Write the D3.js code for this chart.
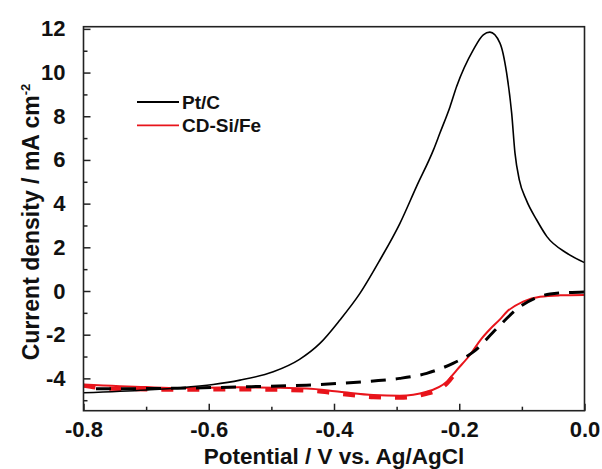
<!DOCTYPE html>
<html>
<head>
<meta charset="utf-8">
<script src="https://cdn.jsdelivr.net/npm/d3@7"></script>
<style>
  body { margin: 0; background: #fff; }
  svg text { font-family: "Liberation Sans", Arial, sans-serif; font-weight: bold; fill: #111; }
</style>
</head>
<body>
<svg id="chart" width="602" height="469"></svg>
<script>
// Pt/C (black solid)
const ptcPotential = [-0.800, -0.700, -0.646, -0.593, -0.550, -0.497, -0.455, -0.4225, -0.3906, -0.3586,
    -0.3267, -0.2947, -0.2683, -0.2412, -0.231, -0.2147, -0.2042, -0.1776, -0.1616, -0.151, -0.135, -0.1243,
    -0.1163, -0.111, -0.104, -0.093, -0.0763, -0.060, -0.028, 0.000];
const ptcCurrent = [-4.66, -4.53, -4.43, -4.28, -4.08, -3.70, -3.13, -2.40, -1.33, -0.11,
    1.42, 3.10, 4.78, 6.46, 7.22, 8.44, 9.36, 11.04, 11.73, 11.85, 11.35, 9.97,
    8.14, 6.31, 5.08, 4.17, 3.25, 2.49, 1.73, 1.30];

// CD-Si/Fe (red solid)
const cdPotential = [-0.800, -0.700, -0.646, -0.550, -0.444, -0.391, -0.337, -0.295, -0.252, -0.220,
    -0.204, -0.183, -0.165, -0.151, -0.135, -0.124, -0.098, -0.071, -0.040, 0.000];
const cdCurrent = [-4.28, -4.40, -4.44, -4.41, -4.46, -4.61, -4.76, -4.79, -4.61, -4.15,
    -3.62, -2.93, -2.20, -1.75, -1.30, -0.95, -0.49, -0.26, -0.20, -0.18];

// second scan, black dashed
const dashBlackPotential = [-0.780, -0.650, -0.532, -0.444, -0.391, -0.337, -0.295, -0.252, -0.210,
    -0.178, -0.140, -0.103, -0.055, 0.000];
const dashBlackCurrent = [-4.48, -4.45, -4.38, -4.31, -4.23, -4.12, -4.00, -3.77, -3.31,
    -2.80, -1.71, -0.72, -0.14, -0.04];

// second scan, red dashed (visible part)
const dashRedPotential = [-0.800, -0.760, -0.650, -0.550, -0.444, -0.391, -0.337, -0.295, -0.252,
    -0.220, -0.205];
const dashRedCurrent = [-4.34, -4.47, -4.52, -4.51, -4.56, -4.71, -4.86, -4.89, -4.71,
    -4.25, -3.70];

const xTicks = [-0.8, -0.6, -0.4, -0.2, 0.0];
const xMinor = [-0.7, -0.5, -0.3, -0.1];
const yTicks = [-4, -2, 0, 2, 4, 6, 8, 10, 12];
const yMinor = [-5, -3, -1, 1, 3, 5, 7, 9, 11];

const legendItems = [
    { label: "Pt/C", color: "#000" },
    { label: "CD-Si/Fe", color: "#e8141b" }
];

const svg = d3.select("#chart");
const margin = { top: 26.7, right: 17.5, bottom: 58.3, left: 83.5 };
const width = 602 - margin.left - margin.right;
const height = 469 - margin.top - margin.bottom;

const g = svg.append("g").attr("transform", `translate(${margin.left},${margin.top})`);

const x = d3.scaleLinear().domain([-0.8, 0.0]).range([0, width]);
const y = d3.scaleLinear().domain([-5.48, 12.1]).range([height, 0]);

function series(px, py) {
    return px.map((v, i) => ({ v: v, j: py[i] }));
}

const line = d3.line()
    .x(d => x(d.v))
    .y(d => y(d.j))
    .curve(d3.curveMonotoneX);

// curves
g.append("path")
    .datum(series(dashRedPotential, dashRedCurrent))
    .attr("d", line)
    .attr("fill", "none")
    .attr("stroke", "#e8141b")
    .attr("stroke-width", 4)
    .attr("stroke-dasharray", "12,14");

g.append("path")
    .datum(series(cdPotential, cdCurrent))
    .attr("d", line)
    .attr("fill", "none")
    .attr("stroke", "#e8141b")
    .attr("stroke-width", 2);

g.append("path")
    .datum(series(dashBlackPotential, dashBlackCurrent))
    .attr("d", line)
    .attr("fill", "none")
    .attr("stroke", "#000")
    .attr("stroke-width", 3)
    .attr("stroke-dasharray", "15,10");

g.append("path")
    .datum(series(ptcPotential, ptcCurrent))
    .attr("d", line)
    .attr("fill", "none")
    .attr("stroke", "#000")
    .attr("stroke-width", 1.6);

// axes, ticks point inward
g.append("g")
    .attr("transform", `translate(0,${height})`)
    .call(d3.axisBottom(x).tickValues(xTicks).tickSize(-7).tickPadding(11)
        .tickFormat(d => d.toFixed(1)));
g.append("g")
    .attr("transform", `translate(0,${height})`)
    .call(d3.axisBottom(x).tickValues(xMinor).tickSize(-4).tickFormat(""));

g.append("g")
    .call(d3.axisLeft(y).tickValues(yTicks).tickSize(-7).tickPadding(18)
        .tickFormat(d => String(d)));
g.append("g")
    .call(d3.axisLeft(y).tickValues(yMinor).tickSize(-4).tickFormat(""));

g.selectAll(".domain").remove();
g.selectAll(".tick line").attr("stroke", "#222").attr("stroke-width", 1.5);
g.selectAll(".tick text").style("font-size", "22px");

// frame
g.append("rect")
    .attr("width", width)
    .attr("height", height)
    .attr("fill", "none")
    .attr("stroke", "#222")
    .attr("stroke-width", 1.6);

// axis titles
svg.append("text")
    .attr("x", margin.left + width / 2)
    .attr("y", 464)
    .attr("text-anchor", "middle")
    .style("font-size", "22.5px")
    .text("Potential / V vs. Ag/AgCl");

const yTitle = svg.append("text")
    .attr("transform", "translate(39,222) rotate(-90)")
    .attr("text-anchor", "middle")
    .style("font-size", "23px");
yTitle.append("tspan").text("Current density / mA cm");
yTitle.append("tspan").attr("dy", -9).style("font-size", "13px").text("-2");

// legend
const legend = svg.append("g").attr("transform", "translate(137,102)");
legendItems.forEach((item, i) => {
    const row = legend.append("g").attr("transform", `translate(0,${i * 23.3})`);
    row.append("line")
        .attr("x1", 0).attr("x2", 42)
        .attr("stroke", item.color)
        .attr("stroke-width", 1.8);
    row.append("text")
        .attr("x", 45)
        .attr("dy", "0.35em")
        .style("font-size", "19px")
        .text(item.label);
});
</script>
</body>
</html>
